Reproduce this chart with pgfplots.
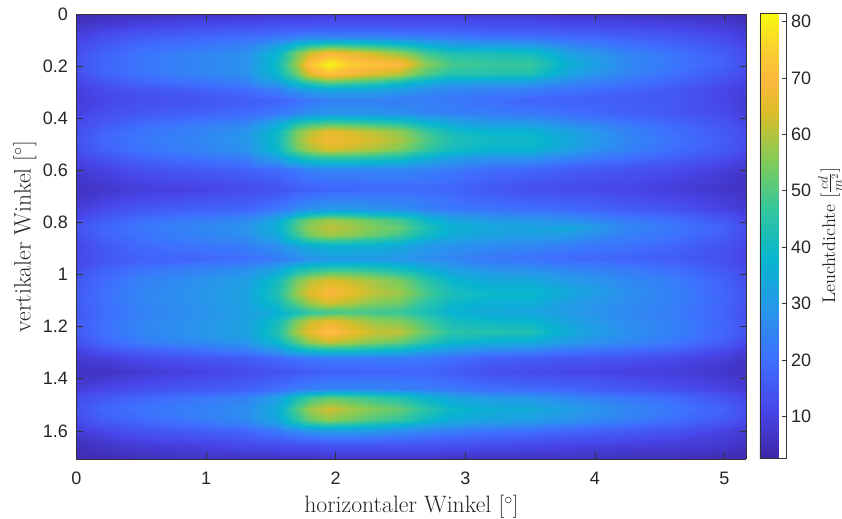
\documentclass[border=0pt]{standalone}
\usepackage{fontspec}
\newfontfamily\arial{Liberation Sans}
\usepackage{pgfplots}
\pgfplotsset{compat=1.18}
\definecolor{axc}{gray}{0.2}
\def\xv{\ifcase\numexpr\coordindex-21*((\coordindex-10)/21)\relax 0\or .2\or .5\or .9\or 1.3\or 1.55\or 1.7\or 1.8\or 1.95\or 2.1\or 2.3\or 2.5\or 2.7\or 2.9\or 3.2\or 3.5\or 3.8\or 4.2\or 4.6\or 5\or 5.17\fi}
\def\yv{\ifcase\numexpr(\coordindex-10)/21\relax 0\or .05\or .09\or .12\or .15\or .19\or .23\or .26\or .29\or .33\or .38\or .42\or .45\or .48\or .52\or .55\or .6\or .67\or .75\or .79\or .82\or .85\or .89\or .94\or .98\or 1.02\or 1.07\or 1.11\or 1.145\or 1.18\or 1.22\or 1.26\or 1.29\or 1.32\or 1.37\or 1.44\or 1.47\or 1.515\or 1.56\or 1.6\or 1.65\or 1.708\fi}
\begin{document}
\begin{tikzpicture}
\path[use as bounding box] (-57.375pt,-44.25pt) rectangle (574.125pt,344.25pt);
\begin{axis}[
  scale only axis, width=502.5pt, height=333.75pt,
  view={0}{90}, y dir=reverse,
  xmin=0, xmax=5.17, ymin=0, ymax=1.708,
  xtick={0,1,2,3,4,5}, ytick={0,0.2,0.4,0.6,0.8,1,1.2,1.4,1.6},
  tick align=inside, tick pos=both, major tick length=5pt,
  tick style={color=axc,line width=0.5pt}, axis line style={color=axc,line width=0.6pt},
  axis on top,
  /pgf/number format/assume math mode=true,
  /pgf/number format/fixed,
  ticklabel style={font=\arial\fontsize{13.5}{15}\selectfont, text=black!85},
  xticklabel style={yshift=-6pt}, yticklabel style={xshift=-3pt},
  xlabel={horizontaler Winkel $[^\circ]$}, ylabel={vertikaler Winkel $[^\circ]$},
  label style={font=\fontsize{17.8}{20}\selectfont, text=black!85},
  xlabel style={yshift=-1.5pt}, ylabel style={yshift=-2pt},
  colormap={parula}{rgb(0cm)=(.2422,.1504,.6603) rgb(1cm)=(.2803,.2782,.9221) rgb(2cm)=(.2440,.4358,.9988)
    rgb(3cm)=(.1540,.5902,.9218) rgb(4cm)=(.0297,.7082,.8163) rgb(5cm)=(.1938,.7758,.6251)
    rgb(6cm)=(.5044,.7993,.3480) rgb(7cm)=(.8634,.7406,.1596) rgb(7.65cm)=(.99,.72,.24) rgb(8.3cm)=(.98,.82,.18) rgb(9cm)=(.9763,.9831,.0538)},
  point meta min=2.6, point meta max=81.5,
  colorbar,
  colorbar style={at={(1.0201,1.0022)}, anchor=north west, width=19.9pt, height=333.75pt,
    ytick={10,20,30,40,50,60,70,80}, tick pos=right, yticklabel pos=right,
    major tick length=3.7pt, tick align=inside,
    ylabel={Leuchtdichte $[\frac{cd}{m^2}]$},
    ylabel style={font=\fontsize{13.7}{15}\selectfont, text=black!85, yshift=1.5pt},
    ticklabel style={font=\arial\fontsize{13.5}{15}\selectfont, text=black!85},
    /pgf/number format/assume math mode=true,
    axis line style={color=axc,line width=0.6pt}},
]
\addplot3[surf, shader=interp, mesh/cols=21, mesh/rows=42, point meta=explicit]
 table[row sep=\\, x expr={\xv}, y expr={\yv}, z=z, meta=z]{
z\\
4\\5\\6\\7\\7\\8\\8\\8\\9\\9\\9\\9\\9\\9\\8\\8\\7\\7\\6\\5\\4\\
7\\9\\11\\13\\14\\15\\15\\15\\15\\15\\15\\15\\15\\15\\14\\14\\13\\12\\11\\9\\7\\
10\\13\\16\\18\\20\\22\\24\\25\\25\\25\\25\\24\\23\\22\\21\\20\\19\\17\\15\\12\\9\\
12\\15\\19\\21\\24\\31\\40\\44\\47\\46\\44\\41\\36\\32\\31\\30\\25\\21\\18\\14\\11\\
13\\17\\21\\24\\27\\38\\54\\63\\69\\66\\62\\57\\48\\43\\42\\41\\32\\25\\21\\16\\12\\
14\\18\\22\\25\\28\\40\\58\\73\\81\\75\\72\\70\\56\\49\\47\\47\\36\\27\\22\\17\\13\\
13\\17\\21\\24\\27\\38\\53\\65\\72\\68\\64\\60\\50\\44\\44\\43\\33\\25\\20\\15\\12\\
11\\14\\18\\21\\24\\31\\41\\47\\52\\50\\47\\42\\36\\32\\31\\31\\26\\22\\18\\13\\10\\
9\\12\\14\\16\\19\\23\\28\\31\\33\\33\\32\\30\\27\\25\\24\\23\\21\\18\\15\\11\\9\\
9\\11\\13\\14\\16\\18\\20\\22\\24\\24\\24\\23\\23\\22\\20\\18\\17\\16\\15\\11\\8\\
10\\13\\15\\17\\19\\22\\25\\27\\28\\28\\28\\27\\25\\24\\23\\22\\20\\17\\15\\12\\9\\
12\\15\\19\\22\\25\\34\\44\\47\\49\\48\\46\\44\\38\\33\\30\\30\\26\\22\\18\\14\\11\\
13\\17\\21\\24\\28\\39\\54\\60\\65\\63\\60\\56\\47\\40\\37\\37\\32\\25\\20\\15\\12\\
14\\18\\22\\25\\29\\40\\56\\63\\68\\66\\63\\59\\50\\43\\40\\40\\34\\26\\21\\16\\13\\
13\\17\\21\\24\\28\\39\\53\\59\\64\\62\\59\\55\\47\\41\\38\\38\\32\\25\\20\\15\\12\\
11\\14\\18\\21\\24\\32\\41\\45\\47\\47\\45\\43\\37\\32\\29\\29\\25\\21\\17\\13\\10\\
8\\10\\13\\15\\17\\19\\22\\24\\25\\25\\25\\25\\24\\22\\19\\18\\16\\14\\12\\9\\7\\
6\\7\\9\\10\\12\\14\\16\\17\\18\\18\\19\\19\\19\\18\\15\\13\\12\\11\\9\\7\\6\\
9\\12\\15\\17\\18\\22\\26\\28\\30\\30\\28\\27\\24\\22\\21\\20\\19\\16\\14\\10\\8\\
12\\16\\20\\23\\26\\34\\48\\54\\58\\56\\52\\48\\39\\33\\30\\29\\27\\23\\20\\15\\11\\
14\\18\\22\\25\\28\\36\\50\\57\\61\\59\\55\\52\\43\\37\\34\\33\\34\\26\\22\\17\\13\\
13\\17\\21\\24\\27\\34\\47\\54\\58\\56\\52\\48\\40\\35\\32\\31\\30\\24\\21\\16\\12\\
11\\15\\19\\21\\23\\27\\32\\35\\37\\37\\36\\34\\30\\28\\26\\25\\23\\21\\18\\14\\11\\
11\\14\\17\\18\\20\\23\\26\\28\\30\\30\\30\\29\\27\\25\\22\\21\\19\\18\\16\\13\\10\\
13\\17\\21\\24\\27\\33\\41\\44\\46\\46\\44\\41\\36\\31\\28\\27\\25\\23\\20\\15\\12\\
15\\19\\24\\27\\31\\41\\54\\60\\64\\62\\58\\54\\45\\38\\34\\34\\30\\26\\23\\17\\13\\
16\\20\\25\\28\\32\\43\\58\\65\\70\\66\\61\\58\\49\\42\\39\\39\\34\\28\\24\\18\\14\\
16\\20\\25\\28\\32\\40\\51\\58\\63\\60\\55\\53\\45\\39\\36\\36\\31\\27\\24\\18\\14\\
15\\19\\24\\27\\31\\36\\42\\46\\48\\49\\48\\47\\42\\37\\34\\33\\30\\26\\23\\17\\13\\
16\\20\\25\\28\\32\\41\\55\\62\\66\\62\\57\\55\\48\\41\\39\\38\\32\\27\\24\\18\\14\\
16\\20\\25\\28\\32\\43\\59\\66\\72\\67\\62\\61\\52\\45\\44\\43\\35\\28\\24\\18\\14\\
14\\18\\23\\26\\29\\38\\50\\57\\62\\59\\55\\52\\45\\39\\36\\35\\30\\26\\22\\16\\12\\
10\\14\\17\\20\\23\\29\\37\\40\\42\\42\\40\\38\\33\\29\\26\\25\\22\\20\\17\\12\\9\\
8\\9\\12\\14\\16\\19\\21\\22\\23\\23\\23\\23\\22\\20\\17\\16\\15\\14\\12\\9\\7\\
6\\6\\8\\10\\12\\14\\15\\16\\17\\17\\18\\18\\18\\16\\13\\12\\11\\10\\9\\7\\6\\
9\\11\\13\\15\\17\\20\\23\\24\\25\\25\\25\\24\\23\\22\\20\\19\\18\\15\\13\\10\\8\\
12\\15\\18\\21\\24\\31\\42\\47\\51\\49\\46\\43\\37\\32\\29\\28\\25\\22\\19\\14\\11\\
14\\18\\21\\24\\27\\35\\50\\58\\63\\59\\55\\52\\45\\39\\36\\35\\31\\26\\22\\17\\13\\
12\\16\\19\\22\\26\\33\\45\\52\\56\\53\\49\\46\\40\\35\\32\\31\\28\\24\\20\\15\\12\\
9\\11\\14\\16\\18\\22\\26\\28\\30\\30\\29\\27\\25\\23\\21\\20\\18\\16\\14\\10\\8\\
5\\7\\9\\10\\12\\13\\14\\14\\15\\15\\15\\15\\14\\14\\13\\12\\11\\10\\9\\8\\6\\
4\\4\\5\\6\\6\\6\\6\\6\\7\\7\\7\\7\\7\\6\\6\\6\\6\\5\\5\\4\\4\\
};
\end{axis}
\end{tikzpicture}
\end{document}
